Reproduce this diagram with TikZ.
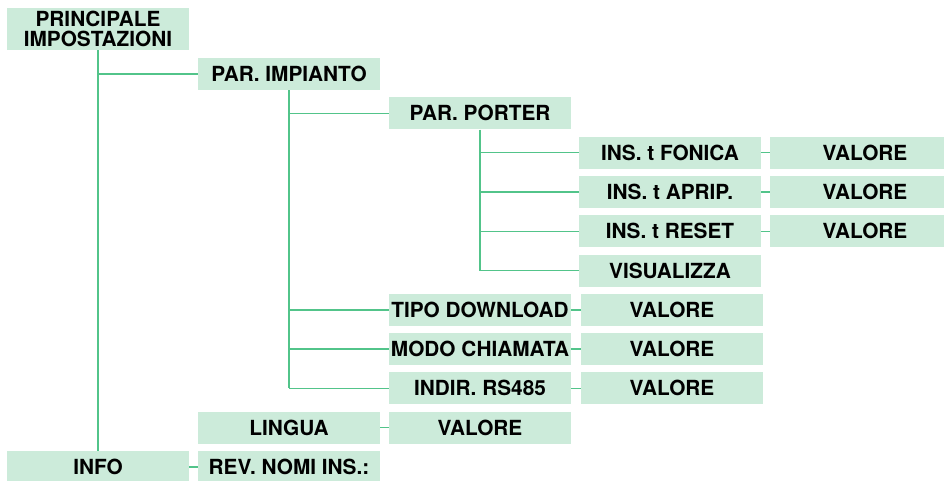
\documentclass[tikz,border=0pt]{standalone}
\usepackage{fontspec}
\setmainfont{TeX Gyre Heros}
\definecolor{boxfill}{HTML}{CCEBDA}
\definecolor{linegreen}{HTML}{52C48A}
\begin{document}
\begin{tikzpicture}[x=1pt,y=-1pt,
  menubox/.style={fill=boxfill, minimum width=182pt, minimum height=32pt, inner sep=0pt,
    font=\fontsize{20.8}{20.5}\selectfont\bfseries, align=center},
  link/.style={draw=linegreen, line width=1.4pt}]
\useasboundingbox (0,0) rectangle (944,480);
\def\rp#1{74+39.3*#1}
\node[menubox, minimum height=42pt] (P0) at (98,29) {PRINCIPALE\\IMPOSTAZIONI};
\node[menubox] (PI) at (289,{\rp{0}}) {PAR. IMPIANTO};
\node[menubox] (PP) at (480,{\rp{1}}) {PAR. PORTER};
\node[menubox] (F) at (670,{\rp{2}}) {INS. t FONICA};
\node[menubox] (A) at (670,{\rp{3}}) {INS. t APRIP.};
\node[menubox] (R) at (670,{\rp{4}}) {INS. t RESET};
\node[menubox] (V) at (670,{\rp{5}}) {VISUALIZZA};
\node[menubox, minimum width=190pt] (VF) at (865,{\rp{2}}) {VALORE};
\node[menubox, minimum width=190pt] (VA) at (865,{\rp{3}}) {VALORE};
\node[menubox, minimum width=190pt] (VR) at (865,{\rp{4}}) {VALORE};
\node[menubox] (TD) at (480,{\rp{6}}) {TIPO DOWNLOAD};
\node[menubox] (MC) at (480,{\rp{7}}) {MODO CHIAMATA};
\node[menubox] (IR) at (480,{\rp{8}}) {INDIR. RS485};
\node[menubox] (VTD) at (672,{\rp{6}}) {VALORE};
\node[menubox] (VMC) at (672,{\rp{7}}) {VALORE};
\node[menubox] (VIR) at (672,{\rp{8}}) {VALORE};
\node[menubox] (LI) at (289,{\rp{9}}) {LINGUA};
\node[menubox] (VLI) at (480,{\rp{9}}) {VALORE};
\node[menubox] (IN) at (98,{\rp{10}}) {INFO};
\node[menubox] (RV) at (289,{\rp{10}}) {REV. NOMI INS.:};
% trunks
\draw[link] (P0.south) -- (IN.north);
\draw[link] (PI.west) -- (PI.west -| P0.south);
\draw[link] (PI.south) -- (PI.south |- IR.west);
\draw[link] (PP.west) -- (PP.west -| PI.south);
\draw[link] (TD.west) -- (TD.west -| PI.south);
\draw[link] (MC.west) -- (MC.west -| PI.south);
\draw[link] (IR.west) -- (IR.west -| PI.south);
\draw[link] (PP.south) -- (PP.south |- V.west);
\draw[link] (F.west) -- (F.west -| PP.south);
\draw[link] (A.west) -- (A.west -| PP.south);
\draw[link] (R.west) -- (R.west -| PP.south);
\draw[link] (V.west) -- (V.west -| PP.south);
% short links
\draw[link] (F.east) -- (VF.west);
\draw[link] (A.east) -- (VA.west);
\draw[link] (R.east) -- (VR.west);
\draw[link] (TD.east) -- (VTD.west);
\draw[link] (MC.east) -- (VMC.west);
\draw[link] (IR.east) -- (VIR.west);
\draw[link] (LI.east) -- (VLI.west);
\draw[link] (IN.east) -- (RV.west);
\end{tikzpicture}
\end{document}
